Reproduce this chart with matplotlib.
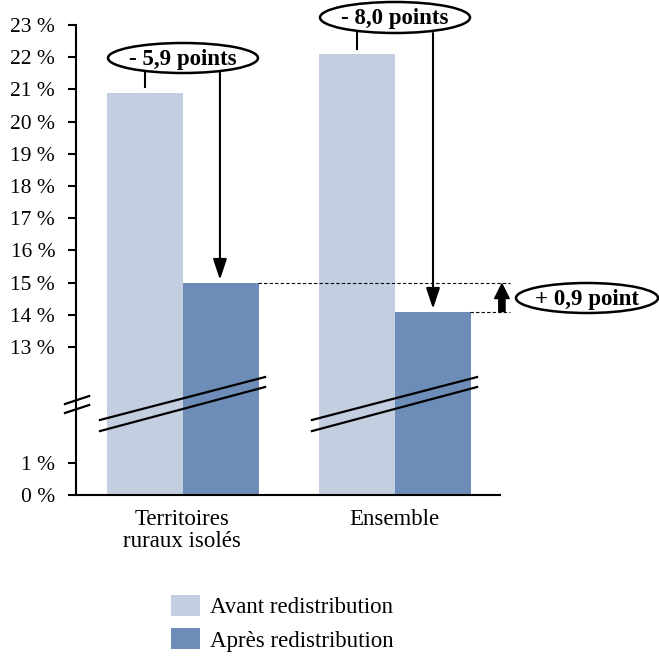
import matplotlib
matplotlib.use("Agg")
import matplotlib.pyplot as plt
from matplotlib.patches import Ellipse
import numpy as np

# ---- data ----
categories = ["Territoires\nruraux isolés", "Ensemble"]
avant = [20.9, 22.1]
apres = [15.0, 14.1]
series_labels = ["Avant redistribution", "Après redistribution"]
ytick_values = [0, 1, 13, 14, 15, 16, 17, 18, 19, 20, 21, 22, 23]
ytick_labels = [f"{v} %" for v in ytick_values]
diff_labels = ["- 5,9 points", "- 8,0 points"]
gap_label = "+ 0,9 point"

c_avant = "#C3CEE1"
c_apres = "#6E8CB8"

plt.rcParams["font.family"] = ["Liberation Serif", "DejaVu Serif"]
FS = 16.5
FS_TICK = 15.5

# piecewise scale for broken axis
def fwd(v):
    v = np.asarray(v, dtype=float)
    return np.where(v <= 1, v, np.where(v <= 13, 1 + (v - 1) * 0.3, v - 8.4))

def inv(d):
    d = np.asarray(d, dtype=float)
    return np.where(d <= 1, d, np.where(d <= 4.6, 1 + (d - 1) / 0.3, d + 8.4))

W, H = 659, 665
fig = plt.figure(figsize=(W / 100, H / 100), dpi=100)
ax = fig.add_axes([76 / W, 170 / H, 424 / W, 470 / H])
ax.set_yscale("function", functions=(fwd, inv))

x = np.arange(len(categories)) + 0.5
bw = 0.358
ax.bar(x - bw / 2 + 0.004, avant, width=bw, color=c_avant, label=series_labels[0], zorder=2)
ax.bar(x + bw / 2 + 0.004, apres, width=bw, color=c_apres, label=series_labels[1], zorder=2)

ax.set_xlim(0, 2)
ax.set_ylim(0, 23)
ax.set_yticks(ytick_values)
ax.set_yticklabels(ytick_labels)
ax.yaxis.set_minor_locator(matplotlib.ticker.NullLocator())
ax.set_xticks(x)
ax.set_xticklabels(categories)
ax.tick_params(axis="y", length=6, width=1.5, pad=9, labelsize=FS_TICK, direction="out")
ax.tick_params(axis="x", length=0, pad=10, labelsize=FS)
for lbl in ax.get_xticklabels():
    lbl.set_linespacing(1.05)
for s in ["top", "right"]:
    ax.spines[s].set_visible(False)
ax.spines["left"].set_linewidth(1.5)
ax.spines["bottom"].set_linewidth(1.5)

# break marks across bars
xt = ax.get_xaxis_transform()
for xc in x:
    for y0, y1 in [(0.1596, 0.251), (0.136, 0.2298)]:
        ax.plot([xc - 0.387, xc + 0.392], [y0, y1], transform=xt, color="black",
                lw=1.6, clip_on=False, zorder=5)
# break marks on y-axis
for y0, y1 in [(0.1936, 0.2106), (0.1745, 0.1915)]:
    ax.plot([-0.026, 0.031], [y0, y1], transform=ax.transAxes, color="black",
            lw=1.6, clip_on=False, zorder=5)

# overlay in pixel coordinates for labels
ov = fig.add_axes([0, 0, 1, 1], zorder=10)
ov.set_xlim(0, W)
ov.set_ylim(H, 0)
ov.axis("off")
ov.patch.set_alpha(0)

ell_specs = [((183, 58), 150, 30, diff_labels[0]),
             ((395, 17.5), 150, 31, diff_labels[1]),
             ((587, 298), 142, 30, gap_label)]
for (cx, cy), ew, eh, txt in ell_specs:
    ov.add_patch(Ellipse((cx, cy), ew, eh, facecolor="white", edgecolor="black", lw=1.8))
    ov.text(cx, cy + 1, txt, ha="center", va="center", fontsize=FS, fontweight="bold")

# connector ticks and arrows
tick_x = [0.325, 1.325]
tick_y = [(0.898, 0.868), (0.983, 0.949)]
arr_x = [0.679, 1.684]
arr_top = [0.90, 0.983]
for i in range(2):
    ax.plot([tick_x[i]] * 2, tick_y[i], transform=xt, color="black", lw=1.5, clip_on=False)
    ax.annotate("", xy=(arr_x[i], apres[i]), xycoords="data",
                xytext=(arr_x[i], arr_top[i]), textcoords=xt,
                arrowprops=dict(arrowstyle="-|>,head_length=0.9,head_width=0.3",
                                lw=1.5, color="black", shrinkA=0, shrinkB=2,
                                mutation_scale=14),
                annotation_clip=False)

# dashed reference lines
ax.plot([0.5 + bw, 2.047], [apres[0], apres[0]], ls=(0, (3, 2)), color="black", lw=0.8, clip_on=False)
ax.plot([1.5 + bw, 2.047], [apres[1], apres[1]], ls=(0, (3, 2)), color="black", lw=0.8, clip_on=False)
ax.annotate("", xy=(2.009, apres[0]), xytext=(2.009, apres[1]),
            arrowprops=dict(arrowstyle="simple,head_length=0.7,head_width=0.7,tail_width=0.3",
                            color="black", shrinkA=0, shrinkB=1, mutation_scale=15),
            annotation_clip=False)

# legend
fig.legend(loc="upper left", bbox_to_anchor=(171 / W, 1 - 595 / H), frameon=False,
           fontsize=FS, handlelength=1.27, handleheight=1.0, handletextpad=0.45,
           labelspacing=0.45, borderpad=0, borderaxespad=0)

fig.savefig("out.png", dpi=100)
